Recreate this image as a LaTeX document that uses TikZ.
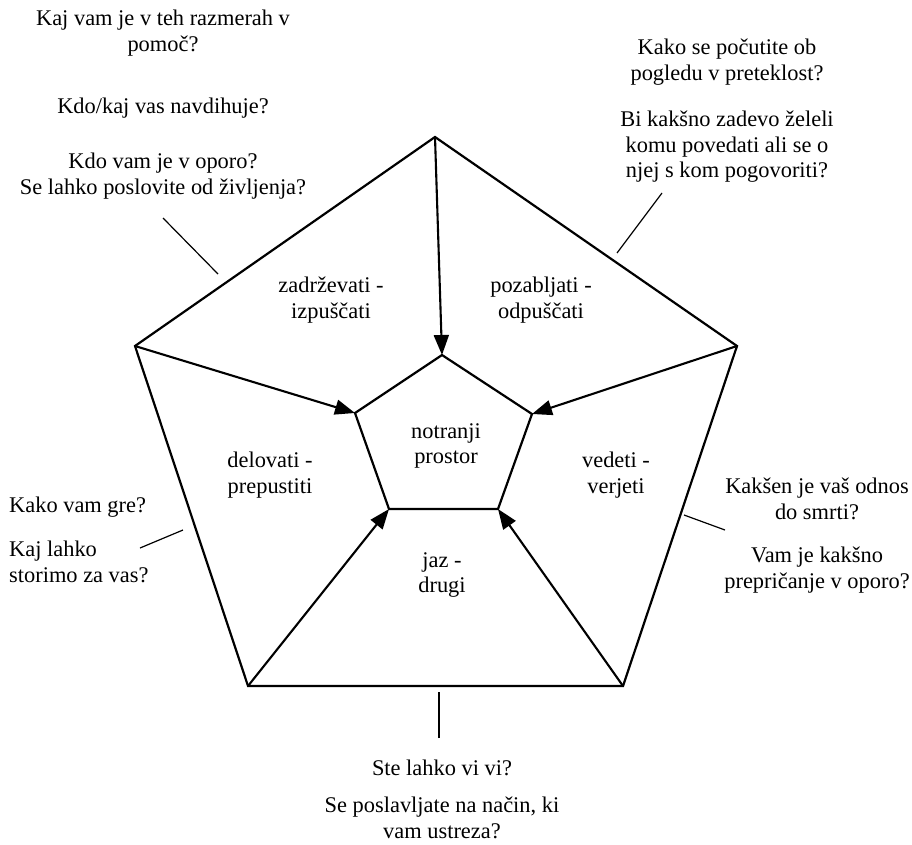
\documentclass[tikz,border=0pt]{standalone}
\usepackage{fontspec}
\setmainfont{Liberation Serif}
\usetikzlibrary{arrows.meta}
\begin{document}
\begin{tikzpicture}[x=1pt,y=-1pt,
  edge/.style={line width=2.2pt,line join=miter},
  flow/.style={line width=2.1pt,-{Triangle[length=20pt,width=15pt]}},
  leader/.style={line width=1.2pt},
  lbl/.style={align=center,inner sep=0pt,font=\fontsize{22.4}{25.5}\selectfont},
  lbll/.style={align=left,inner sep=0pt,font=\fontsize{22.4}{25.5}\selectfont}]
\useasboundingbox (0,0) rectangle (912,844);

% outer pentagon corners
\coordinate (oT) at (435,137);
\coordinate (oL) at (135,346);
\coordinate (oR) at (737,346);
\coordinate (oBL) at (248,686);
\coordinate (oBR) at (623,686);
% inner pentagon corners
\coordinate (iT) at (442,355);
\coordinate (iL) at (355,413);
\coordinate (iR) at (532,414);
\coordinate (iBL) at (389,509);
\coordinate (iBR) at (498,509);

\draw[edge] (oT) -- (oR) -- (oBR) -- (oBL) -- (oL) -- cycle;
\draw[edge] (iT) -- (iR) -- (iBR) -- (iBL) -- (iL) -- cycle;

\draw[flow] (oT) -- (iT);
\draw[flow] (oL) -- (iL);
\draw[flow] (oR) -- (iR);
\draw[flow] (oBL) -- (iBL);
\draw[flow] (oBR) -- (iBR);

% sector labels
\node[lbl] (zad) at (331,300) {zadrževati -\\izpuščati};
\node[lbl] (poz) at (541,300) {pozabljati -\\odpuščati};
\node[lbl] (del) at (270,475) {delovati -\\prepustiti};
\node[lbl] (not) at (446,446) {notranji\\prostor};
\node[lbl] (ved) at (616,475) {vedeti -\\verjeti};
\node[lbl] (jaz) at (442,575) {jaz -\\drugi};

% questions around the pentagon
\node[lbl] (q1) at (163,33) {Kaj vam je v teh razmerah v\\pomoč?};
\node[lbl] (q2) at (163,108) {Kdo/kaj vas navdihuje?};
\node[lbl] (q3) at (163,176) {Kdo vam je v oporo?\\Se lahko poslovite od življenja?};

\node[lbl] (q4) at (727,62) {Kako se počutite ob\\pogledu v preteklost?};
\node[lbl] (q5) at (727,147) {Bi kakšno zadevo želeli\\komu povedati ali se o\\njej s kom pogovoriti?};

\node[lbll,anchor=west] (q6) at (9,507) {Kako vam gre?};
\node[lbll,anchor=west] (q7) at (9,562) {Kaj lahko\\storimo za vas?};

\node[lbl] (q8) at (817,499) {Kakšen je vaš odnos\\do smrti?};
\node[lbl] (q9) at (817,570) {Vam je kakšno\\prepričanje v oporo?};

\node[lbl] (q10) at (442,768) {Ste lahko vi vi?};
\node[lbl] (q11) at (442,818) {Se poslavljate na način, ki\\vam ustreza?};

% leader lines from the questions to the pentagon
\coordinate (a1) at (163,218); \coordinate (b1) at (218,274);
\coordinate (a2) at (662,193); \coordinate (b2) at (617,253);
\coordinate (a3) at (140,548); \coordinate (b3) at (183,530);
\coordinate (a4) at (725,530); \coordinate (b4) at (684,515);
\coordinate (a5) at (439,738); \coordinate (b5) at (439,692);
\draw[leader] (a1) -- (b1);
\draw[leader] (a2) -- (b2);
\draw[leader] (a3) -- (b3);
\draw[leader] (a4) -- (b4);
\draw[leader] (a5) -- (b5);
\end{tikzpicture}
\end{document}
